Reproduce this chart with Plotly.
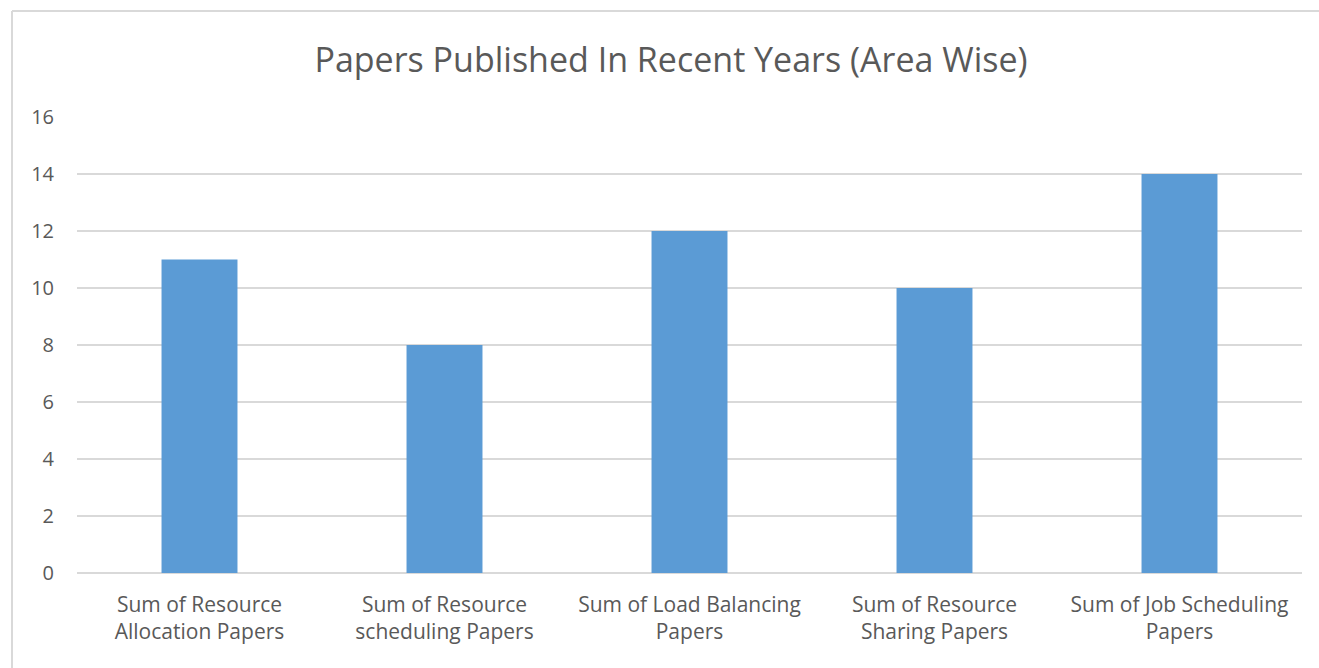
import plotly.graph_objects as go

categories = [
    "Sum of Resource<br>Allocation Papers",
    "Sum of Resource<br>scheduling Papers",
    "Sum of Load Balancing<br>Papers",
    "Sum of Resource<br>Sharing Papers",
    "Sum of Job Scheduling<br>Papers",
]
values = [11, 8, 12, 10, 14]
y_ticks = [0, 2, 4, 6, 8, 10, 12, 14, 16]

TEXT = "#595959"
FONT = "Open Sans"

fig = go.Figure(
    go.Bar(
        x=categories,
        y=values,
        marker=dict(color="#5B9BD5", line=dict(width=0)),
        hoverinfo="x+y",
    )
)

W, H = 1319, 668
L, R, T, B = 77, 17, 117, 95
pw, ph = W - L - R, H - T - B

fig.update_layout(
    width=W,
    height=H,
    margin=dict(l=L, r=R, t=T, b=B),
    paper_bgcolor="white",
    plot_bgcolor="white",
    bargap=0.69,
    showlegend=False,
    title=dict(
        text="Papers Published In Recent Years (Area Wise)",
        x=671 / W,
        xanchor="center",
        y=1 - 60 / H,
        yanchor="middle",
        font=dict(family=FONT, size=34, color=TEXT),
    ),
    font=dict(family=FONT, color=TEXT, size=20),
    xaxis=dict(
        showgrid=False,
        showline=False,
        ticks="",
        ticklabelstandoff=17,
        tickfont=dict(size=21, color=TEXT),
        fixedrange=True,
    ),
    yaxis=dict(
        range=[0, 16],
        tickvals=y_ticks,
        showgrid=True,
        gridcolor="#D9D9D9",
        gridwidth=1.5,
        zeroline=True,
        zerolinecolor="#D9D9D9",
        zerolinewidth=1.5,
        showline=False,
        ticks="",
        ticklabelstandoff=22,
        tickfont=dict(size=20, color=TEXT),
        fixedrange=True,
    ),
    shapes=[
        dict(
            type="line", xref="paper", yref="paper",
            x0=(12 - L) / pw, x1=(W + 5 - L) / pw,
            y0=(H - B - 11) / ph, y1=(H - B - 11) / ph,
            line=dict(color="#D9D9D9", width=2),
        ),
        dict(
            type="line", xref="paper", yref="paper",
            x0=(12 - L) / pw, x1=(12 - L) / pw,
            y0=(H - B - 11) / ph, y1=(H - B - H - 5) / ph,
            line=dict(color="#D9D9D9", width=2),
        ),
    ],
)

fig.write_html("out.html")
